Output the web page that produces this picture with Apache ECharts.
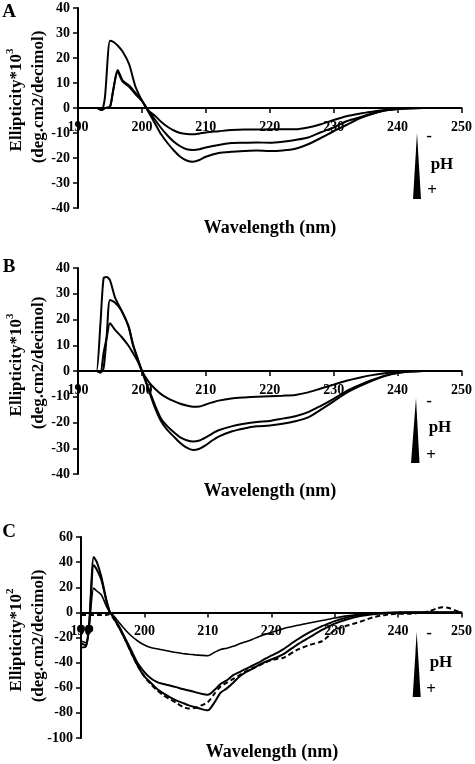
<!DOCTYPE html>
<html>
<head>
<meta charset="utf-8">
<script src="https://cdn.jsdelivr.net/npm/echarts@6/dist/echarts.min.js"></script>
<style>
html,body{margin:0;padding:0;background:#fff;}
#chart{width:475px;height:764px;}
</style>
</head>
<body>
<div id="chart"></div>
<script>
// ---------- Panel A ----------
var wlA = [190, 193, 193.7, 194.2, 195, 195.5, 196.2, 197, 198, 199, 200, 201, 202, 203, 204, 205, 206, 207, 208, 209, 210, 212, 214, 216, 218, 220, 222, 224, 226, 228, 230, 232, 234, 236, 238, 240, 242, 244, 246, 248, 250];
var a1 = [0, 0, -0.8, 4, 26.9, 26.5, 25, 22.5, 17.5, 8.5, 3, -1.5, -6, -10.5, -14, -17, -19.5, -21, -21.5, -20.8, -19.5, -18, -17.5, -17.2, -17, -17.2, -17, -16.3, -14.5, -12, -9.3, -6.8, -4.2, -2.4, -1, -0.4, -0.1, 0, 0, 0, 0];
var a2 = [0, 0, -0.8, 0, 0.5, 7, 15.2, 11, 9, 6, 3, -1, -4.5, -8, -11, -13.5, -15.3, -16.5, -16.8, -16.5, -15.8, -14.8, -14, -13.9, -13.8, -13.9, -13.5, -12.8, -11.8, -9.7, -7.8, -5.3, -3.8, -2.2, -1, -0.4, -0.1, 0, 0, 0, 0];
var a3 = [0, 0, -0.8, 0, 0.5, 7, 14.5, 10.5, 8.5, 5.5, 2.8, -1, -3, -5.5, -7.5, -9, -10, -10.4, -10.5, -10.2, -9.8, -9.3, -8.8, -8.6, -8.6, -8.5, -8.5, -8.5, -7.8, -6.5, -4.8, -3.3, -2.3, -1.5, -0.8, -0.4, -0.1, 0, 0, 0, 0];

// ---------- Panel B ----------
var wlB = [190, 192.5, 192.9, 193.5, 194, 194.5, 195, 195.8, 196.8, 197.9, 198.6, 199.3, 200, 201, 202, 203, 204, 205, 206, 207, 208, 209, 210, 211, 212, 214, 216, 218, 220, 222, 224, 226, 228, 230, 232, 234, 236, 238, 240, 242, 244, 246, 248, 250];
var b1 = [0, 0, 0, 18, 36, 36.5, 35.3, 28.5, 23.5, 17.5, 10.5, 5, 0, -7, -14, -19.5, -23, -25.5, -28, -29.8, -30.7, -30.2, -28.8, -27, -25.5, -23.5, -22.3, -21.5, -21.2, -20.5, -19.5, -18, -15, -11.8, -8.5, -6, -3.8, -2, -0.8, -0.2, 0, 0, 0, 0];
var b2 = [0, 0, 0, -0.6, 1, 14, 27.6, 26.5, 23.5, 17.2, 10, 5, 0, -6.5, -13, -18.5, -21.5, -23.8, -25.8, -26.9, -27.4, -27, -25.8, -24.3, -23, -21.5, -20.5, -19.8, -19.4, -18.5, -17.6, -16, -13.5, -10.8, -7.8, -5.5, -3.5, -1.8, -0.7, -0.2, 0, 0, 0, 0];
var b3 = [0, 0, 0, -0.6, 7, 13, 18.5, 16, 13.3, 9.8, 7, 4, 0, -4, -6.8, -9, -10.5, -11.7, -12.7, -13.4, -13.9, -13.8, -13, -12.2, -11.5, -10.7, -10.3, -10, -9.8, -9.6, -9.3, -8.3, -6.8, -5.3, -3.8, -2.6, -1.6, -0.9, -0.4, -0.1, 0, 0, 0, 0];

// ---------- Panel C ----------
var wlC = [190, 190.8, 191.3, 192, 192.5, 193.2, 194, 194.5, 195, 196, 197, 198, 199, 200, 201, 202, 203, 204, 205, 206, 207, 208, 209, 210, 211, 212, 213, 214, 215, 216, 217, 218, 219, 220, 221, 222, 224, 226, 228, 229, 230, 232, 234, 236, 238, 240, 242, 244, 245, 246, 247, 248, 249, 250];
var c1 = [-28, -27, -8, 44, 40, 28.5, 10, 1, -3, -12, -22, -33, -43, -51, -56, -61, -64.5, -67.4, -70, -72, -74, -75.5, -77, -78, -72, -64, -60.5, -56, -51, -47.5, -45, -42, -39.5, -37.5, -35.5, -33, -26, -20, -14, -11.5, -9, -5.5, -3, -1.5, -0.7, -0.2, 0, 0, 0, 0, 0, 0, 0, 0];
var c2 = [-25, -26, -9, 37.6, 34, 26, 9, 1, -3, -11, -21, -31, -41, -47.5, -52.5, -55.5, -57, -58.2, -59.5, -61, -62.2, -63.5, -64.8, -65.6, -62, -57, -54, -50, -47.5, -45, -42.5, -40, -37, -34.5, -32, -29, -22, -16, -11, -9, -7, -4, -2, -1, -0.5, -0.2, 0, 0, 0, 0, 0, 0, 0, 0];
var c3 = [-23, -24, -10, 19.3, 17, 14, 5, 0.5, -2, -8, -14, -19, -23, -26, -28, -29, -30, -31, -32, -32.7, -33.3, -33.8, -34.2, -34.5, -32, -29.5, -28.5, -27, -25, -23.3, -21.5, -19.5, -17.7, -16, -14.5, -12.8, -10.5, -8.5, -6.5, -5.5, -4.5, -2.8, -1.5, -0.6, -0.2, 0, 0, 0, 0, 0, 0, 0, 0, 0];
var c4 = [-2, -2, -2, -2, -2, -2, -2, -1.5, -4, -12, -22, -33, -43, -51, -57, -62, -66, -69, -72, -75, -76.5, -76, -74, -71.5, -65, -59, -56, -53, -50, -47, -44.5, -42.5, -40, -38, -37, -36, -30, -26, -23, -19, -14, -10.5, -7.5, -4, -2, -1, -1, 0, 1, 3, 4, 3.5, 1.5, 0];
var dotsCx = [190, 191.3];
var dotsCy = [-13, -13];

// ---------- Axis ticks ----------
var xTicks = {min: 190, max: 250, step: 10};
var yTicksAB = {min: -40, max: 40, step: 10};
var yTicksC = {min: -100, max: 60, step: 20};

var FONT = '"Liberation Serif", "Times New Roman", serif';
var grids = [
  {left: 78, top: 8, width: 384, height: 200},
  {left: 78, top: 268, width: 384, height: 206},
  {left: 81, top: 537, width: 382, height: 201}
];
var yT = [yTicksAB, yTicksAB, yTicksC];

function pairs(xs, ys) { return xs.map(function (x, i) { return [x, ys[i]]; }); }

function xAx(g) {
  // place the x axis on the zero line of its panel
  var t = yT[g];
  var off = -grids[g].height * (0 - t.min) / (t.max - t.min);
  return {
    type: 'value', gridIndex: g, min: xTicks.min, max: xTicks.max, interval: xTicks.step,
    position: 'bottom', offset: off,
    axisLine: {show: true, onZero: false, lineStyle: {color: '#000', width: 2}},
    axisTick: {show: true, length: 5, lineStyle: {color: '#000', width: 1.5}},
    axisLabel: {color: '#000', fontFamily: FONT, fontWeight: 'bold', fontSize: 14, margin: 12, showMinLabel: true, showMaxLabel: true},
    splitLine: {show: false}
  };
}
function yAx(g, t) {
  return {
    type: 'value', gridIndex: g, min: t.min, max: t.max, interval: t.step,
    axisLine: {show: true, onZero: false, lineStyle: {color: '#000', width: 2}},
    axisTick: {show: true, length: 5, lineStyle: {color: '#000', width: 1.5}},
    axisLabel: {color: '#000', fontFamily: FONT, fontWeight: 'bold', fontSize: 14, margin: 8},
    splitLine: {show: false}
  };
}
function ln(g, xs, ys, opt) {
  opt = opt || {};
  return {
    type: 'line', xAxisIndex: g, yAxisIndex: g, data: pairs(xs, ys),
    showSymbol: false, smooth: 0.25, animation: false, silent: true,
    lineStyle: {color: '#000', width: opt.w || 2, type: opt.type || 'solid'},
    z: 3
  };
}

function txt(x, y, s, size, rot) {
  return {
    type: 'text', x: x, y: y, rotation: rot || 0, silent: true, z: 10,
    style: {text: s, font: 'bold ' + size + 'px ' + FONT, fill: '#000',
      textAlign: 'center', textVerticalAlign: 'middle', align: 'center', verticalAlign: 'middle'}
  };
}
function supTxt(x, y, main, sup, rot) {
  return {
    type: 'text', x: x, y: y, rotation: rot, silent: true, z: 10,
    style: {
      text: '{m|' + main + '}{s|' + sup + '}',
      textAlign: 'center', textVerticalAlign: 'middle', align: 'center', verticalAlign: 'middle',
      rich: {
        m: {fontFamily: FONT, fontWeight: 'bold', fontSize: 17, fill: '#000', color: '#000', lineHeight: 20, verticalAlign: 'bottom'},
        s: {fontFamily: FONT, fontWeight: 'bold', fontSize: 11, fill: '#000', color: '#000', lineHeight: 11, verticalAlign: 'top'}
      }
    }
  };
}
function wedge(pts) {
  return {type: 'polygon', shape: {points: pts}, style: {fill: '#000'}, silent: true, z: 10};
}

var R = Math.PI / 2;
var option = {
  backgroundColor: '#fff',
  animation: false,
  grid: grids,
  xAxis: [xAx(0), xAx(1), xAx(2)],
  yAxis: [yAx(0, yTicksAB), yAx(1, yTicksAB), yAx(2, yTicksC)],
  series: [
    ln(0, wlA, a1), ln(0, wlA, a2), ln(0, wlA, a3),
    ln(1, wlB, b1), ln(1, wlB, b2), ln(1, wlB, b3),
    ln(2, wlC, c1), ln(2, wlC, c2), ln(2, wlC, c3, {w: 1.6}),
    ln(2, wlC, c4, {type: [5, 3]}),
    {type: 'scatter', xAxisIndex: 2, yAxisIndex: 2, data: pairs(dotsCx, dotsCy), symbolSize: 8,
      itemStyle: {color: '#000', opacity: 1}, silent: true, z: 4}
  ],
  graphic: [
    txt(9, 12, 'A', 19), txt(9, 267, 'B', 19), txt(9, 532, 'C', 19),
    supTxt(15, 100, 'Ellipticity*10', '3', R), txt(39, 97, '(deg.cm2/decimol)', 17, R),
    supTxt(15, 365, 'Ellipticity*10', '3', R), txt(39, 363, '(deg.cm2/decimol)', 17, R),
    supTxt(15, 640, 'Ellipticity*10', '2', R), txt(39, 636, '(deg.cm2/decimol)', 17, R),
    txt(270, 228, 'Wavelength (nm)', 18), txt(270, 491, 'Wavelength (nm)', 18), txt(272, 752, 'Wavelength (nm)', 18),
    wedge([[417, 133], [421, 199], [413, 199]]),
    txt(429, 137, '-', 17), txt(442, 165, 'pH', 17), txt(432, 191, '+', 17),
    wedge([[416, 398], [419.5, 463], [411, 463]]),
    txt(429, 402, '-', 17), txt(440, 428, 'pH', 17), txt(431, 456, '+', 17),
    wedge([[416.7, 632], [420.7, 697], [412.7, 697]]),
    txt(429, 634, '-', 17), txt(441, 663, 'pH', 17), txt(431, 690, '+', 17)
  ]
};
var chart = echarts.init(document.getElementById('chart'), null, {renderer: 'canvas'});
chart.setOption(option);
</script>
</body>
</html>
